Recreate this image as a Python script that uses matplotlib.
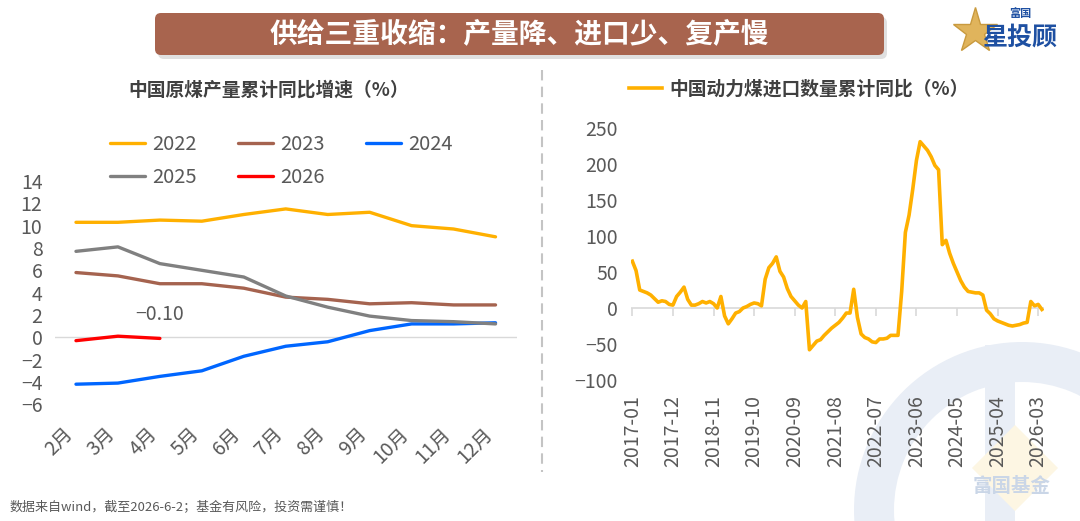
import matplotlib
matplotlib.use('Agg')
import matplotlib.pyplot as plt
import matplotlib.transforms as mtransforms
from matplotlib.patches import FancyBboxPatch, Wedge, Polygon, Rectangle
import numpy as np

plt.rcParams['font.family'] = ['Noto Sans CJK SC', 'DejaVu Sans']
plt.rcParams['axes.unicode_minus'] = True

# ---------------- data ----------------
months = ['2月', '3月', '4月', '5月', '6月', '7月', '8月', '9月', '10月', '11月', '12月']
y2022 = [10.3, 10.3, 10.5, 10.4, 11.0, 11.5, 11.0, 11.2, 10.0, 9.7, 9.0]
y2023 = [5.8, 5.5, 4.8, 4.8, 4.4, 3.6, 3.4, 3.0, 3.1, 2.9, 2.9]
y2024 = [-4.2, -4.1, -3.5, -3.0, -1.7, -0.8, -0.4, 0.6, 1.2, 1.2, 1.3]
y2025 = [7.7, 8.1, 6.6, 6.0, 5.4, 3.7, 2.7, 1.9, 1.5, 1.4, 1.2]
y2026 = [-0.3, 0.1, -0.1]
series_names = ['2022', '2023', '2024', '2025', '2026']
series_colors = ['#FFB000', '#A5634F', '#0066FF', '#808080', '#FF0000']

coal_import = [
    65, 52, 25, 23, 21, 18, 13, 8, 10, 9, 5, 4,          # 2017
    16, 22, 29, 12, 4, 4, 6, 9, 7, 9, 6, 0,               # 2018
    16, -11, -22, -15, -7, -5, 0, 2, 5, 7, 6, 3,          # 2019
    40, 56, 62, 71, 51, 43, 27, 16, 10, 4, 0, 9,          # 2020
    -58, -52, -46, -44, -38, -33, -28, -24, -20, -14, -7, -7,  # 2021
    26, -13, -36, -41, -43, -47, -48, -43, -43, -42, -38, -38,  # 2022
    -38, 23, 105, 129, 165, 205, 231, 225, 219, 210, 198, 192,  # 2023
    88, 94, 76, 62, 50, 38, 29, 23, 22, 21, 21, 18,       # 2024
    -3, -8, -15, -18, -20, -22, -24, -25, -24, -23, -21, -20,  # 2025
    9, 3, 5, -2,                                          # 2026
]
coal_tick_labels = ['2017-01', '2017-12', '2018-11', '2019-10', '2020-09', '2021-08',
                    '2022-07', '2023-06', '2024-05', '2025-04', '2026-03']

main_title = '供给三重收缩：产量降、进口少、复产慢'
left_title = '中国原煤产量累计同比增速（%）'
right_label = '中国动力煤进口数量累计同比（%）'
footnote = '数据来自wind，截至2026-6-2；基金有风险，投资需谨慎！'

W, H = 1080, 521
fig = plt.figure(figsize=(W / 100, H / 100), dpi=100)
fig.patch.set_facecolor('white')

# ---------------- background / decoration layer (pixel coords) ----------------
bg = fig.add_axes([0, 0, 1, 1], zorder=0)
bg.set_xlim(0, W)
bg.set_ylim(H, 0)
bg.axis('off')

# watermark
wm = '#E9EEF6'
bg.add_patch(Wedge((1022, 510), 168, 0, 360, width=40, fc=wm, ec='none'))
bg.add_patch(Rectangle((985, 345), 30, 180, fc=wm, ec='none'))
bg.add_patch(Polygon([[1015, 425], [1058, 468], [1015, 511], [972, 468]], closed=True,
                     fc='#FDF6E3', ec='none'))
bg.text(1012, 487, '富国基金', fontsize=14, weight='bold', color='#CAD6E7',
        ha='center', va='center')

# banner
bg.add_patch(FancyBboxPatch((158, 17), 729, 42, boxstyle='round,pad=0,rounding_size=6',
                            fc='#000000', alpha=0.12, ec='none'))
bg.add_patch(FancyBboxPatch((155, 13), 729, 42, boxstyle='round,pad=0,rounding_size=6',
                            fc='#A8644E', ec='none'))
bg.text(519.5, 34, main_title, fontsize=20, weight='bold', color='white',
        ha='center', va='center')

# logo
bg.plot([975], [31], marker='*', ms=34, color='#E0B45C', mec='#C99A3E', mew=1)
bg.text(1020, 14, '富国', fontsize=8, weight='bold', color='#1E50A2', ha='center', va='center')
bg.text(1020, 38, '星投顾', fontsize=18, weight='bold', color='#1E50A2', ha='center', va='center')

# separator
bg.plot([541.5, 541.5], [70, 472], color='#C4C4C4', lw=1.5, ls=(0, (5, 3)))

# titles / footnote
bg.text(268.5, 90, left_title, fontsize=13.5, weight='bold', color='#404040',
        ha='center', va='center')
bg.text(10, 507, footnote, fontsize=9.4, color='#595959', ha='left', va='center')

# ---------------- left chart ----------------
ax1 = fig.add_axes([55 / W, 1 - 404.3 / H, 461.5 / W, 223.3 / H], zorder=2)
ax1.set_facecolor('none')
x = np.arange(len(months))
for name, vals, c in zip(series_names, [y2022, y2023, y2024, y2025, y2026], series_colors):
    ax1.plot(x[:len(vals)], vals, color=c, lw=2.4, label=name, solid_capstyle='round', zorder=3)
ax1.axhline(0, color='#D9D9D9', lw=1, zorder=1)
ax1.set_xlim(-0.5, 10.5)
ax1.set_ylim(-6, 14)
ax1.set_yticks(np.arange(-6, 15, 2))
ax1.set_xticks(x)
ax1.set_xticklabels(months, rotation=45, ha='right', va='center', rotation_mode='anchor')
for s in ax1.spines.values():
    s.set_visible(False)
ax1.tick_params(axis='both', length=0, labelsize=14, labelcolor='#595959')
ax1.tick_params(axis='y', pad=9)
ax1.tick_params(axis='x', pad=19)
off = mtransforms.ScaledTranslation(-6 / 100, 0, fig.dpi_scale_trans)
for lab in ax1.get_xticklabels():
    lab.set_transform(lab.get_transform() + off)
ax1.annotate('\u22120.10', xy=(2, y2026[2]), xytext=(0, 17.5), textcoords='offset points',
             ha='center', va='center', fontsize=14, color='#595959')

h, l = ax1.get_legend_handles_labels()
order = [0, 3, 1, 4, 2]
ax1.legend([h[i] for i in order], [l[i] for i in order], loc='upper left',
           bbox_to_anchor=(109.5 / W, 1 - 134 / H), bbox_transform=fig.transFigure,
           ncol=3, frameon=False, fontsize=14.5, handlelength=1.75, handletextpad=0.35,
           columnspacing=2.05, labelspacing=0.6, borderpad=0, borderaxespad=0,
           labelcolor='#595959')

# ---------------- right chart ----------------
n = len(coal_import)
xi = np.arange(n)
ax2 = fig.add_axes([630.5 / W, 1 - 380 / H, 413.6 / W, 252 / H], zorder=2)
ax2.set_facecolor('none')
ax2.plot(xi, coal_import, color='#FFB000', lw=2.6, solid_joinstyle='round', zorder=3,
         label=right_label)
ax2.axhline(0, color='#D9D9D9', lw=1.2, zorder=1)
tick_pos = xi[::11]
ax2.vlines(tick_pos, -11, 0, color='#D9D9D9', lw=1.2, zorder=1)
ax2.set_xlim(-0.5, 111.6)
ax2.set_ylim(-100, 250)
ax2.set_yticks(np.arange(-100, 251, 50))
ax2.set_xticks(tick_pos)
ax2.set_xticklabels(coal_tick_labels, rotation=90, ha='center', va='top')
for s in ax2.spines.values():
    s.set_visible(False)
ax2.tick_params(axis='both', length=0, labelsize=14, labelcolor='#595959')
ax2.tick_params(axis='y', pad=9)
ax2.tick_params(axis='x', pad=11)
ax2.legend(loc='center left', bbox_to_anchor=(629 / W, 1 - 89 / H),
           bbox_transform=fig.transFigure, frameon=False,
           prop={'size': 13.5, 'weight': 'bold'}, handlelength=1.76,
           handletextpad=0.37, borderpad=0, borderaxespad=0, labelcolor='#404040')

fig.savefig('out.png', dpi=100)
